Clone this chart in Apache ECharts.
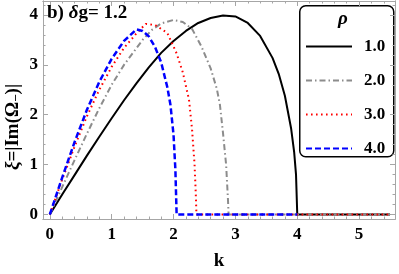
<!DOCTYPE html>
<html><head><meta charset="utf-8">
<script src="https://cdn.jsdelivr.net/npm/echarts@6/dist/echarts.min.js"></script>
<style>html,body{margin:0;padding:0;background:#fff}#c{width:399px;height:274px}</style>
</head><body><div id="c"></div>
<script>
// ---- data ----
const legendNames = ['1.0', '2.0', '3.0', '4.0'];
const kBlack  = [0, 0.2, 0.4, 0.6, 0.8, 1.0, 1.2, 1.4, 1.6, 1.8, 2.0, 2.2, 2.4, 2.6, 2.8, 3.0, 3.2, 3.4, 3.6, 3.7, 3.8, 3.9, 3.95, 3.98, 4.0, 5.5];
const xiBlack = [0, 0.40, 0.79, 1.18, 1.56, 1.93, 2.29, 2.63, 2.95, 3.24, 3.48, 3.68, 3.84, 3.94, 3.99, 3.97, 3.84, 3.58, 3.14, 2.82, 2.38, 1.73, 1.25, 0.80, 0, 0];
const kGray   = [0, 0.2, 0.4, 0.6, 0.8, 1.0, 1.2, 1.35, 1.5, 1.65, 1.8, 2.0, 2.15, 2.3, 2.45, 2.6, 2.7, 2.75, 2.8, 2.85, 2.88, 2.89, 5.5];
const xiGray  = [0, 0.55, 1.09, 1.62, 2.13, 2.60, 3.00, 3.25, 3.50, 3.70, 3.83, 3.90, 3.86, 3.72, 3.37, 2.93, 2.52, 2.20, 1.63, 1.00, 0.30, 0, 0];
const kRed    = [0, 0.2, 0.4, 0.6, 0.8, 1.0, 1.2, 1.4, 1.55, 1.7, 1.9, 2.05, 2.15, 2.25, 2.3, 2.34, 2.36, 2.37, 5.5];
const xiRed   = [0, 0.70, 1.36, 1.97, 2.50, 2.96, 3.34, 3.63, 3.82, 3.80, 3.64, 3.23, 2.85, 2.30, 1.70, 1.00, 0.40, 0, 0];
const kBlue   = [0, 0.2, 0.4, 0.6, 0.8, 1.0, 1.2, 1.4, 1.5, 1.6, 1.7, 1.8, 1.9, 1.95, 2.0, 2.03, 2.05, 4.0];
const xiBlue  = [0, 0.74, 1.45, 2.10, 2.66, 3.12, 3.48, 3.71, 3.68, 3.57, 3.36, 3.05, 2.55, 2.20, 1.60, 0.90, 0, 0];
const xTicks = [0, 1, 2, 3, 4, 5];
const yTicks = [0, 1, 2, 3, 4];
const xTitle = 'k';
const yTitle = '{i|ξ}=|Im(Ω{s|−})|';
const annotation = 'b) {i|δ}g= 1.2';
const legendTitle = 'ρ';

// ---- chart ----
const zip = (a, b) => a.map((v, i) => [v, b[i]]);
const minor = (lo, hi) => { const r = []; for (let i = Math.round(lo * 5); i <= Math.round(hi * 5); i++) r.push(+(i / 5).toFixed(2)); return r; };
const xMinor = minor(0, 5.4), yMinor = minor(0, 4.2);
const XMIN = -0.11, XMAX = 5.58, YMIN = -0.09, YMAX = 4.28;
const frame = '#a6a6a6';
const font = 'Liberation Serif';
const lbl = { show: true, color: '#000', fontFamily: font, fontWeight: 'bold', fontSize: 17 };

function ax(pos, ticks, len, label, extra) {
  return Object.assign({
    type: 'value', position: pos,
    min: pos === 'bottom' || pos === 'top' ? XMIN : YMIN,
    max: pos === 'bottom' || pos === 'top' ? XMAX : YMAX,
    splitLine: { show: false },
    axisLine: { show: true, onZero: false, lineStyle: { color: frame, width: 1 } },
    axisTick: { show: true, inside: true, length: len, customValues: ticks, lineStyle: { color: frame, width: 1 } },
    axisLabel: label ? Object.assign({ customValues: ticks }, label) : { show: false }
  }, extra || {});
}

const chart = echarts.init(document.getElementById('c'), null, { renderer: 'canvas' });
const lineBase = { type: 'line', showSymbol: false, symbol: 'none', xAxisIndex: 0, yAxisIndex: 0, animation: false };
chart.setOption({
  animation: false,
  grid: { left: 43, right: 4, top: 1, bottom: 55, containLabel: false, outerBoundsMode: 'none' },
  xAxis: [
    ax('bottom', xTicks, 5, Object.assign({ margin: 7 }, lbl), {
      name: xTitle, nameLocation: 'middle', nameGap: 33, nameTextStyle: { color: '#000', fontFamily: font, fontWeight: 'bold', fontSize: 19 } }),
    ax('bottom', xMinor, 2.5, null),
    ax('top', xTicks, 5, null),
    ax('top', xMinor, 2.5, null)
  ],
  yAxis: [
    ax('left', yTicks, 5, Object.assign({ margin: 5 }, lbl)),
    ax('left', yMinor, 2.5, null),
    ax('right', yTicks, 5, null),
    ax('right', yMinor, 2.5, null)
  ],
  legend: {
    show: true, orient: 'vertical', left: 300, top: 33,
    itemWidth: 46, itemHeight: 14, itemGap: 17,
    data: legendNames,
    itemStyle: { opacity: 0 },
    textStyle: { color: '#000', fontFamily: font, fontWeight: 'bold', fontSize: 17, padding: [0, 0, 0, 7] },
    selectedMode: false
  },
  graphic: [
    { type: 'rect', left: 299, top: 5, shape: { width: 94, height: 151, r: 6 }, style: { fill: '#fff', stroke: '#000', lineWidth: 1.5 }, z: 0, zlevel: 0 },
    { type: 'text', left: 338, top: 10, style: { text: legendTitle, fill: '#000', font: 'italic bold 19px "Liberation Serif"' }, z: 10 },
    { type: 'text', left: 47, top: 4, style: { text: annotation, fill: '#000', fontFamily: font, fontWeight: 'bold', fontSize: 19,
      rich: { i: { fontFamily: font, fontStyle: 'italic', fontWeight: 'bold', fontSize: 19 } } }, z: 10 },
    { type: 'text', x: 13, y: 127, rotation: Math.PI / 2,
      style: { text: yTitle, fill: '#000', fontFamily: font, fontWeight: 'bold', fontSize: 19, align: 'center', verticalAlign: 'middle',
        rich: { i: { fontFamily: font, fontStyle: 'italic', fontWeight: 'bold', fontSize: 19 }, s: { fontFamily: font, fontWeight: 'bold', fontSize: 13, padding: [8, 0, 0, 0] } } }, z: 10 }
  ],
  series: [
    Object.assign({}, lineBase, { name: legendNames[0], data: zip(kBlack, xiBlack), lineStyle: { color: '#000', width: 2 }, itemStyle: { color: '#000' } }),
    Object.assign({}, lineBase, { name: legendNames[1], data: zip(kGray, xiGray), lineStyle: { color: '#8c8c8c', width: 2, type: [6, 3, 1.5, 3] }, itemStyle: { color: '#8c8c8c' } }),
    Object.assign({}, lineBase, { name: legendNames[2], data: zip(kRed, xiRed), lineStyle: { color: '#ff0000', width: 2, type: [1.6, 3.4] }, itemStyle: { color: '#ff0000' } }),
    Object.assign({}, lineBase, { name: legendNames[3], data: zip(kBlue, xiBlue), lineStyle: { color: '#0000ff', width: 2.5, type: [6, 3] }, itemStyle: { color: '#0000ff' } })
  ]
});
</script>
</body></html>
